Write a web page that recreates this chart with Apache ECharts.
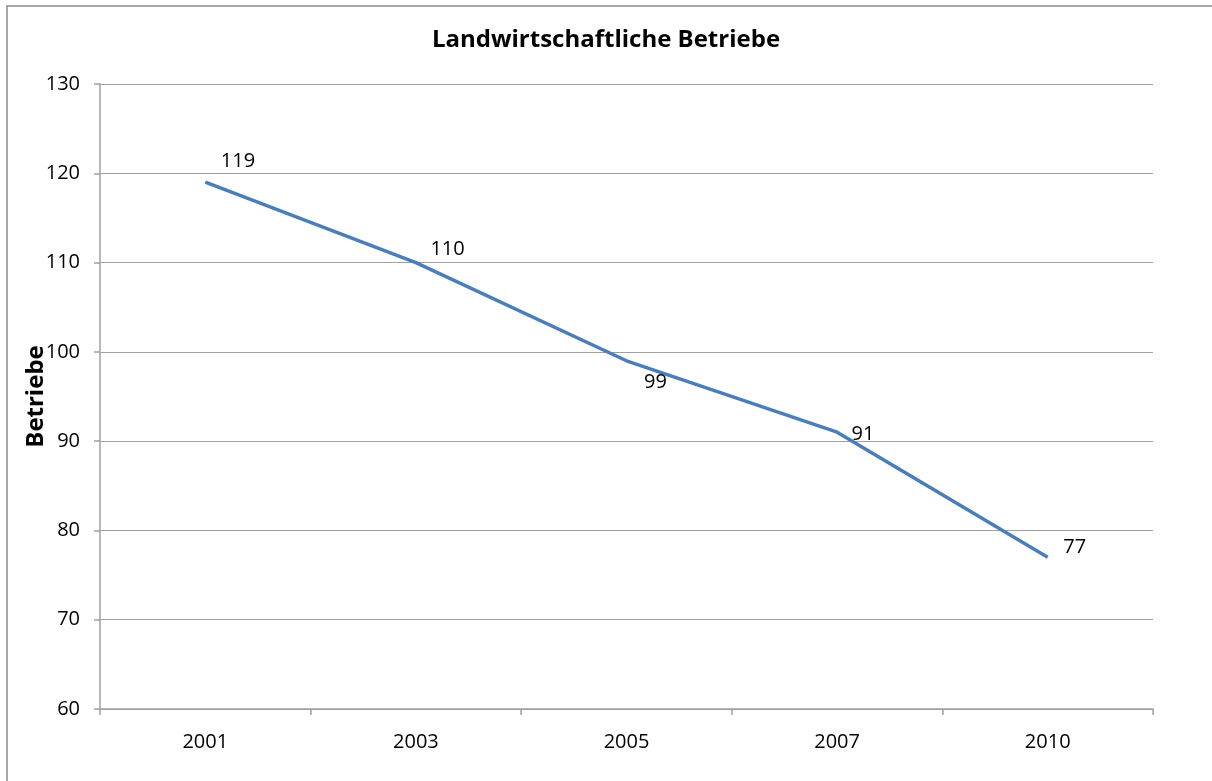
<!DOCTYPE html>
<html><head><meta charset="utf-8">
<script src="https://cdn.jsdelivr.net/npm/echarts@6/dist/echarts.min.js"></script>
<style>html,body{margin:0;padding:0;background:#fff}#c{width:1212px;height:781px}</style>
</head><body><div id="c"></div>
<script>
const years = ['2001','2003','2005','2007','2010'];
const betriebe = [119, 110, 99, 91, 77];
const yTicks = [60, 70, 80, 90, 100, 110, 120, 130];
const labelOffsets = [[10,-21],[9,-13],[29,6],[9,2],[10,-10]];
const labelPos = ['right','right','bottom','right','right'];

const font = '"Open Sans", Lato, sans-serif';
const chart = echarts.init(document.getElementById('c'));
chart.setOption({
  animation:false,
  backgroundColor:'#fff',
  graphic:[{type:'rect',shape:{x:7,y:6,width:1300,height:900},style:{fill:'none',stroke:'#8c8c8c',lineWidth:1.5},silent:true}],
  title:{text:'Landwirtschaftliche Betriebe',left:'center',top:23,textStyle:{fontFamily:font,fontSize:24,fontWeight:'bold',color:'#000'}},
  grid:{left:100,right:59,top:84,bottom:72},
  xAxis:{type:'category',data:years,boundaryGap:true,
    axisLine:{lineStyle:{color:'#a0a0a0',width:1.5}},
    axisTick:{show:true,length:6,lineStyle:{color:'#a0a0a0',width:1.5}},
    axisLabel:{fontFamily:font,fontSize:20,color:'#000',margin:23}},
  yAxis:{type:'value',min:yTicks[0],max:yTicks[yTicks.length-1],interval:10,
    name:'Betriebe',nameLocation:'middle',nameGap:52,nameRotate:90,nameMoveOverlap:false,
    nameTextStyle:{fontFamily:font,fontSize:24,fontWeight:'bold',color:'#000'},
    axisLine:{show:true,lineStyle:{color:'#a0a0a0',width:1.5}},
    axisTick:{show:true,length:6,lineStyle:{color:'#a0a0a0',width:1.5}},
    splitLine:{lineStyle:{color:'#a0a0a0',width:1.2}},
    axisLabel:{fontFamily:font,fontSize:20,color:'#000',margin:20}},
  series:[{type:'line',symbol:'circle',symbolSize:1,showSymbol:true,
    itemStyle:{color:'rgba(0,0,0,0)',borderWidth:0},
    lineStyle:{color:'#4a7ebb',width:3.5},
    data:betriebe.map((v,i)=>({value:v,label:{show:true,position:labelPos[i],offset:labelOffsets[i]}})),
    label:{show:true,fontFamily:font,fontSize:20,color:'#000'}}]
});
</script></body></html>
